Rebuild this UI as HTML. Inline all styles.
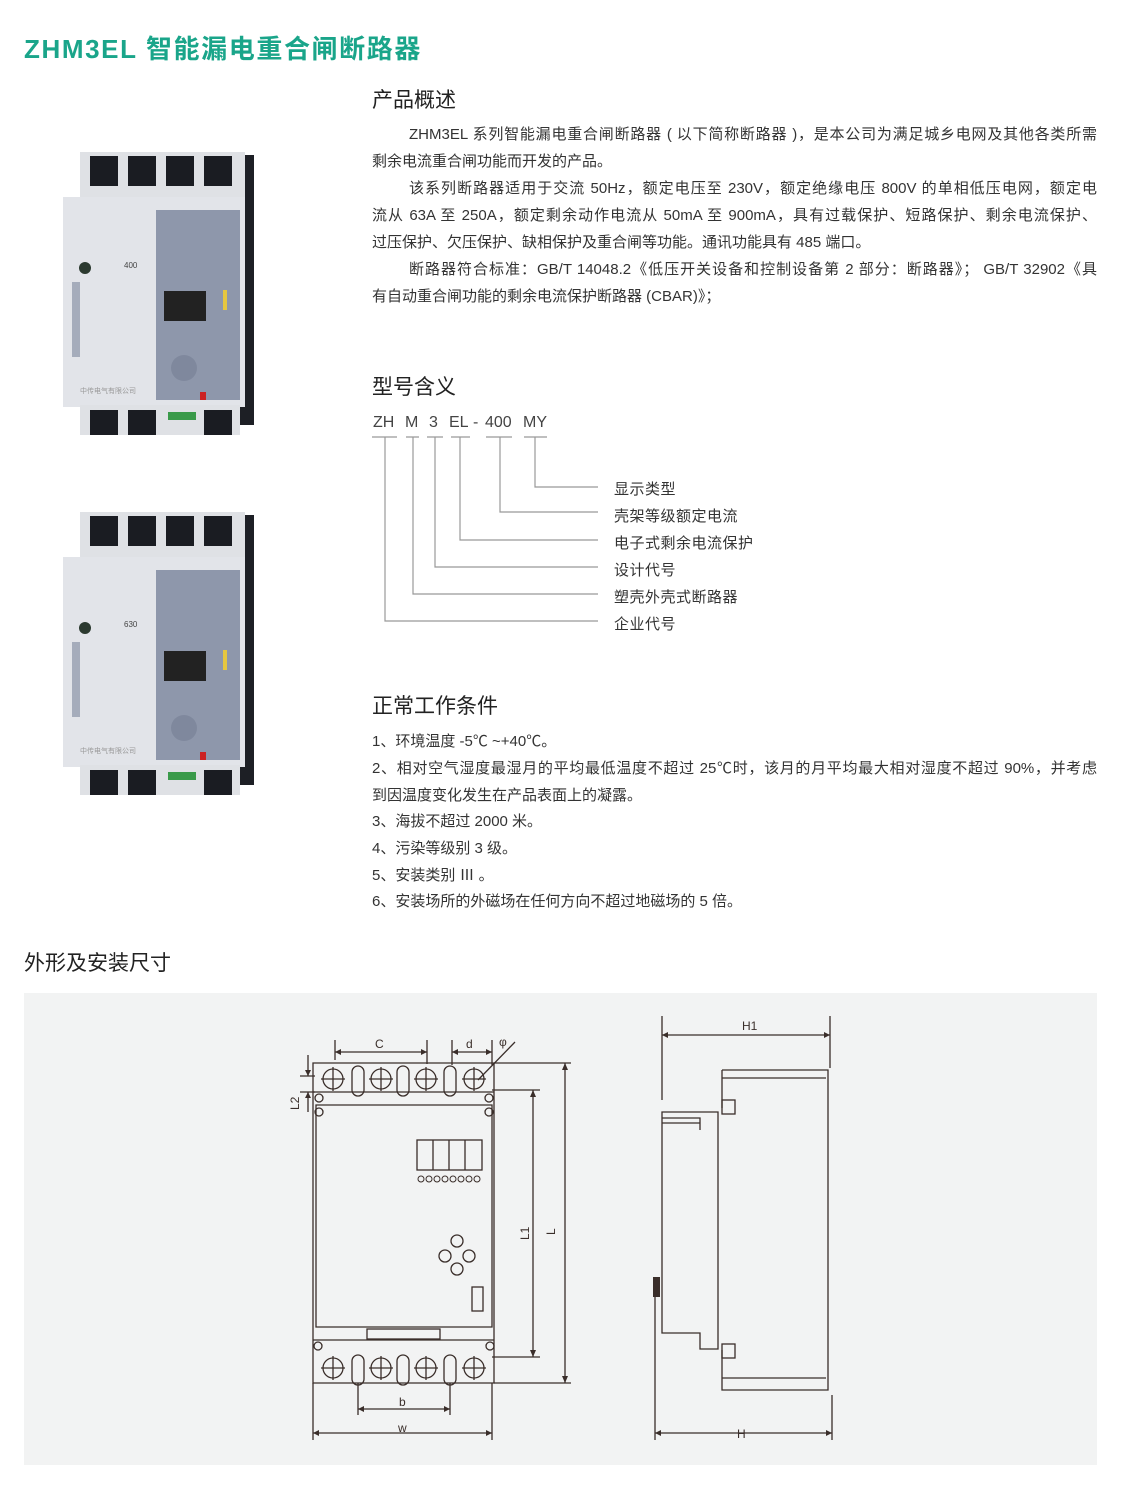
<!DOCTYPE html>
<html><head><meta charset="utf-8"><style>
body{margin:0;width:1121px;height:1497px;background:#fff;position:relative;overflow:hidden;font-family:"Liberation Sans","Noto Sans CJK SC",sans-serif;color:#333}
.a{position:absolute;white-space:nowrap}
.t{position:absolute;left:372px;width:725px;font-size:15px;line-height:20px;white-space:nowrap}
.j{text-align:justify;text-align-last:justify}
h2{position:absolute;margin:0;font-weight:normal;font-size:21px;color:#222;white-space:nowrap}
.m{position:absolute;top:414px;font-size:16px;color:#444}
</style></head><body>
<div class="a" style="left:24px;top:29px;font-size:26px;color:#1aa58a;font-weight:bold;letter-spacing:1.6px">ZHM3EL 智能漏电重合闸断路器</div>
<h2 style="left:372px;top:84px">产品概述</h2>
<div class="t j" style="top:125px;padding-left:37px;width:688px">ZHM3EL 系列智能漏电重合闸断路器 ( 以下简称断路器 )，是本公司为满足城乡电网及其他各类所需</div>
<div class="t" style="top:152px">剩余电流重合闸功能而开发的产品。</div>
<div class="t j" style="top:179px;padding-left:37px;width:688px">该系列断路器适用于交流 50Hz，额定电压至 230V，额定绝缘电压 800V 的单相低压电网，额定电</div>
<div class="t j" style="top:206px">流从 63A 至 250A，额定剩余动作电流从 50mA 至 900mA，具有过载保护、短路保护、剩余电流保护、</div>
<div class="t" style="top:233px">过压保护、欠压保护、缺相保护及重合闸等功能。通讯功能具有 485 端口。</div>
<div class="t j" style="top:260px;padding-left:37px;width:688px">断路器符合标准：GB/T 14048.2《低压开关设备和控制设备第 2 部分：断路器》； GB/T 32902《具</div>
<div class="t" style="top:287px">有自动重合闸功能的剩余电流保护断路器 (CBAR)》；</div>

<h2 style="left:372px;top:371px">型号含义</h2>
<div class="m" style="left:373px">ZH</div><div class="m" style="left:405px">M</div><div class="m" style="left:429px">3</div><div class="m" style="left:449px">EL</div><div class="m" style="left:473px">-</div><div class="m" style="left:485px">400</div><div class="m" style="left:523px">MY</div>
<svg class="a" style="left:0;top:0" width="1121" height="700">
<g stroke="#999" stroke-width="1.2" fill="none">
<path d="M372 437h25M406 437h13M427 437h16M451 437h19M486 437h26M524 437h23"/>
<path d="M535 437V487H598M500 437V512H598M460 437V540H598M435 437V567H598M413 437V594H598M385 437V621H598"/>
</g></svg>
<div class="a" style="left:614px;top:476px;font-size:15px;line-height:27px;letter-spacing:0.5px">显示类型<br>壳架等级额定电流<br>电子式剩余电流保护<br>设计代号<br>塑壳外壳式断路器<br>企业代号</div>

<h2 style="left:372px;top:690px">正常工作条件</h2>
<div class="t" style="top:732px">1、环境温度 -5℃ ~+40℃。</div>
<div class="t j" style="top:759px">2、相对空气湿度最湿月的平均最低温度不超过 25℃时，该月的月平均最大相对湿度不超过 90%，并考虑</div>
<div class="t" style="top:786px">到因温度变化发生在产品表面上的凝露。</div>
<div class="t" style="top:812px">3、海拔不超过 2000 米。</div>
<div class="t" style="top:839px">4、污染等级别 3 级。</div>
<div class="t" style="top:866px">5、安装类别 Ⅲ 。</div>
<div class="t" style="top:892px">6、安装场所的外磁场在任何方向不超过地磁场的 5 倍。</div>

<h2 style="left:24px;top:947px">外形及安装尺寸</h2>

<svg class="a" style="left:0;top:0" width="300" height="820">
<defs><g id="br">
<rect x="240" y="155" width="14" height="270" fill="#1d1f25"/>
<rect x="80" y="152" width="165" height="50" fill="#dfe1e5"/>
<rect x="90" y="156" width="28" height="30" fill="#1a1c22"/><rect x="128" y="156" width="28" height="30" fill="#1a1c22"/><rect x="166" y="156" width="28" height="30" fill="#1a1c22"/><rect x="204" y="156" width="28" height="30" fill="#1a1c22"/>
<rect x="63" y="197" width="182" height="210" fill="#e2e4e9"/>
<rect x="156" y="210" width="84" height="190" fill="#8e97ab"/>
<rect x="164" y="291" width="42" height="30" fill="#222"/>
<rect x="72" y="282" width="8" height="75" fill="#a5acbb"/>
<circle cx="85" cy="268" r="6" fill="#2c3a30"/>
<circle cx="184" cy="368" r="13" fill="#7f889d"/>
<rect x="200" y="392" width="6" height="8" fill="#c22"/>
<rect x="223" y="290" width="4" height="20" fill="#e6c740"/>
<rect x="80" y="405" width="160" height="30" fill="#dfe1e5"/>
<rect x="90" y="410" width="28" height="25" fill="#1a1c22"/><rect x="128" y="410" width="28" height="25" fill="#1a1c22"/><rect x="204" y="410" width="28" height="25" fill="#1a1c22"/>
<rect x="168" y="412" width="28" height="8" fill="#3a9a4a"/>
<text x="80" y="393" font-size="7" fill="#999" font-family="Noto Sans CJK SC">中传电气有限公司</text>
</g></defs>
<use href="#br"/><use href="#br" y="360"/>
<text x="124" y="268" font-size="8" fill="#444">400</text>
<text x="124" y="627" font-size="8" fill="#444">630</text>
</svg>

<div class="a" style="left:24px;top:993px;width:1073px;height:472px;background:#f2f3f3"></div>
<svg class="a" style="left:0;top:0" width="1121" height="1497">
<g stroke="#3a2e2a" stroke-width="1.3" fill="none">
<path d="M313 1063H494V1383H313Z"/>
<path d="M313 1092H494M316 1105H492V1327H316ZM313 1340H494"/>
<rect x="367" y="1329" width="73" height="10"/>
<g id="tt"><circle cx="333" cy="1079" r="10"/><circle cx="381" cy="1079" r="10"/><circle cx="426" cy="1079" r="10"/><circle cx="474" cy="1079" r="10"/>
<path d="M321 1079h24M333 1067v24M369 1079h24M381 1067v24M414 1079h24M426 1067v24M462 1079h24M474 1067v24"/>
<rect x="352" y="1066" width="12" height="30" rx="6"/><rect x="397" y="1066" width="12" height="30" rx="6"/><rect x="444" y="1066" width="12" height="30" rx="6"/></g>
<use href="#tt" y="289"/>
<circle cx="319" cy="1098" r="4"/><circle cx="489" cy="1098" r="4"/><circle cx="319" cy="1112" r="4"/><circle cx="489" cy="1112" r="4"/>
<circle cx="318" cy="1346" r="4"/><circle cx="490" cy="1346" r="4"/>
<rect x="417" y="1140" width="65" height="30"/>
<path d="M433 1140v30M449 1140v30M465 1140v30"/>
<g stroke-width="1"><circle cx="421" cy="1179" r="3"/><circle cx="429" cy="1179" r="3"/><circle cx="437" cy="1179" r="3"/><circle cx="445" cy="1179" r="3"/><circle cx="453" cy="1179" r="3"/><circle cx="461" cy="1179" r="3"/><circle cx="469" cy="1179" r="3"/><circle cx="477" cy="1179" r="3"/></g>
<circle cx="457" cy="1241" r="6"/><circle cx="445" cy="1256" r="6"/><circle cx="469" cy="1256" r="6"/><circle cx="457" cy="1269" r="6"/>
<rect x="472" y="1287" width="11" height="24"/>
<path d="M335 1040V1060M427 1040v24M335 1052h92M452 1040v25M492 1040v25M452 1052h40M478 1080l37-38"/>
<path d="M494 1063H571M492 1090H540M494 1383H571M565 1063V1383M533 1090V1357M492 1357H540"/>
<path d="M300 1076h15M300 1092h15M308 1055V1076M308 1092V1112M313 1383V1440M492 1383V1440M313 1433H492M358 1383V1415M450 1383V1415M358 1409H450"/>
<path d="M662 1016V1100M830 1016V1068M662 1035H830M655 1280V1440M832 1395V1440M655 1433H832"/>
<path d="M722 1070H828V1390H722V1350M722 1078H826M722 1378H826M722 1070V1108"/>
<path d="M662 1112H718V1349H700V1333H662ZM662 1118H700V1130M662 1123H700"/>
<rect x="722" y="1100" width="13" height="14"/><rect x="722" y="1344" width="13" height="14"/>
</g>
<rect x="653" y="1277" width="7" height="20" fill="#3a2e2a"/>
<g fill="#3a2e2a">
<path d="M335 1052l6-3v6zM427 1052l-6-3v6zM452 1052l6-3v6zM492 1052l-6-3v6zM565 1063l-3 7h6zM565 1383l-3-7h6zM533 1357l-3-7h6zM533 1090l-3 7h6zM313 1433l6-3v6zM492 1433l-6-3v6zM358 1409l6-3v6zM450 1409l-6-3v6zM662 1035l6-3v6zM830 1035l-6-3v6zM655 1433l6-3v6zM832 1433l-6-3v6zM308 1076l-3-6h6zM308 1092l-3 6h6z"/>
</g>
<g font-family="Liberation Sans" font-size="12" fill="#3a2e2a">
<text x="375" y="1048">C</text><text x="466" y="1048">d</text><text x="499" y="1046">φ</text>
<text x="399" y="1406">b</text><text x="398" y="1432">w</text>
<text x="742" y="1030">H1</text><text x="737" y="1438">H</text>
<text transform="translate(299,1110) rotate(-90)">L2</text>
<text transform="translate(529,1240) rotate(-90)">L1</text>
<text transform="translate(555,1235) rotate(-90)">L</text>
</g>
</svg>
</body></html>
